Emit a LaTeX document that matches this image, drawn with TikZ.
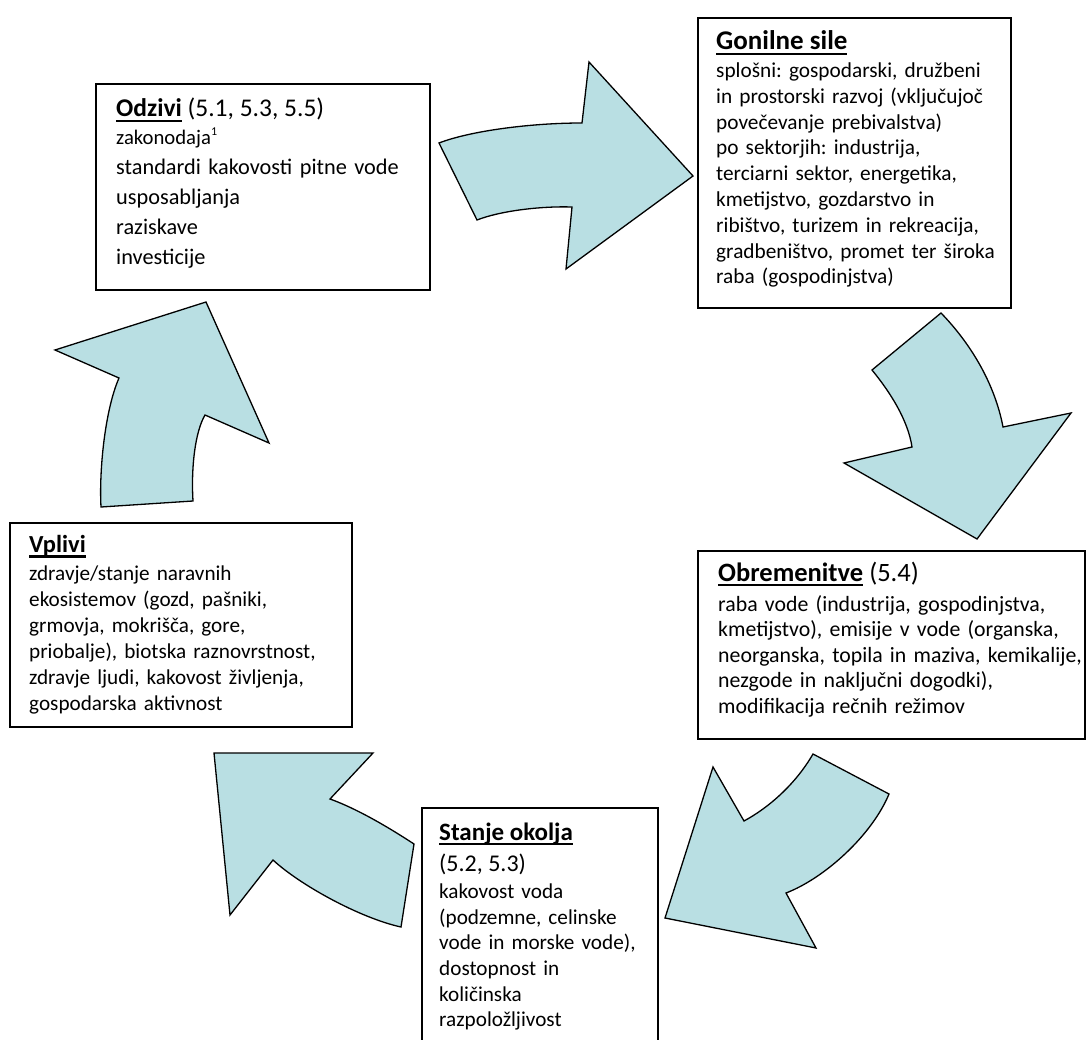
\documentclass[tikz,border=0pt]{standalone}
\usepackage{fontspec}
\setmainfont{Carlito}
\frenchspacing
\definecolor{arrowfill}{RGB}{185,223,227}
\newcommand\ulword[1]{\setbox0\hbox{#1}\rlap{\rule[-4.8pt]{\wd0}{2.1pt}}\box0\relax}
\begin{document}
\begin{tikzpicture}[x=1pt,y=-1pt,
  box/.style={draw=black, line width=1.8pt, fill=white, inner sep=0pt, anchor=north west},
  blockarrow/.style={draw=black, line width=1.3pt, fill=arrowfill, line join=miter},
  title/.style={anchor=base west, inner sep=0pt},
  body/.style={anchor=base west, inner sep=0pt, align=left, text width=420pt}]
\fill[white] (0,0) rectangle (1086,1040);
\useasboundingbox (0,0) rectangle (1086,1040);

% boxes
\node[box, minimum width=334pt, minimum height=206pt] (odz) at (95,83) {};
\node[box, minimum width=313pt, minimum height=290pt] (gon) at (697,17) {};
\node[box, minimum width=387pt, minimum height=188pt] (obr) at (697,550) {};
\node[box, minimum width=342pt, minimum height=204pt] (vpl) at (9,522) {};
\node[box, minimum width=236pt, minimum height=250pt] (sta) at (421,807) {};

% Odzivi
\node[title, font={\fontsize{25.5}{28}\selectfont}] (odzt) at (116,117) {\ulword{\bfseries Odzivi} (5.1, 5.3, 5.5)};
\node[body, font={\fontsize{22.3}{30}\selectfont}] (odzb) at (116,145)
  {{\fontsize{20.7}{30}\selectfont zakonodaja\raisebox{9pt}{\fontsize{12}{12}\selectfont 1}}\\
   standardi kakovosti pitne vode\\ usposabljanja\\ raziskave\\ investicije};

% Gonilne sile
\node[title, font={\fontsize{27}{30}\selectfont\bfseries}] (gont) at (716,50) {\ulword{Gonilne sile}};
\node[body, font={\fontsize{21.3}{25.8}\selectfont}] (gonb) at (716,77.5)
  {splošni: gospodarski, družbeni\\
   in prostorski razvoj (vključujoč\\
   povečevanje prebivalstva)\\
   po sektorjih: industrija,\\
   terciarni sektor, energetika,\\
   kmetijstvo, gozdarstvo in\\
   ribištvo, turizem in rekreacija,\\
   gradbeništvo, promet ter široka\\
   raba (gospodinjstva)};

% Obremenitve
\node[title, font={\fontsize{26.5}{30}\selectfont}] (obrt) at (718,581) {\ulword{\bfseries Obremenitve} (5.4)};
\node[body, font={\fontsize{21.8}{25.5}\selectfont}] (obrb) at (718,611)
  {raba vode (industrija, gospodinjstva,\\
   kmetijstvo), emisije v vode (organska,\\
   neorganska, topila in maziva, kemikalije,\\
   nezgode in naključni dogodki),\\
   modifikacija rečnih režimov};

% Vplivi
\node[title, font={\fontsize{24.5}{28}\selectfont\bfseries}] (vplt) at (29,552.7) {\ulword{Vplivi}};
\node[body, font={\fontsize{21.2}{26.1}\selectfont}] (vplb) at (29,580)
  {zdravje/stanje naravnih\\
   ekosistemov (gozd, pašniki,\\
   grmovja, mokrišča, gore,\\
   priobalje), biotska raznovrstnost,\\
   zdravje ljudi, kakovost življenja,\\
   gospodarska aktivnost};

% Stanje okolja
\node[title, font={\fontsize{25}{28}\selectfont\bfseries}] (stat) at (439,840) {\ulword{Stanje okolja}};
\node[title, font={\fontsize{24}{28}\selectfont}] (stan) at (439,871.7) {(5.2, 5.3)};
\node[body, font={\fontsize{21.2}{25.7}\selectfont}] (stab) at (439,898.3)
  {kakovost voda\\
   (podzemne, celinske\\
   vode in morske vode),\\
   dostopnost in\\
   količinska\\
   razpoložljivost};

% block arrows
\draw[blockarrow] (439,143) .. controls (470,131) and (530,123) .. (582,123) -- (589,62) -- (693,176)
  -- (566,269) -- (572,207) .. controls (540,206) and (500,211) .. (477,220) -- cycle;
\draw[blockarrow] (872,370) .. controls (890,392) and (908,420) .. (912,447) -- (844,463) -- (977,539)
  -- (1071,413) -- (1003,427) .. controls (995,385) and (972,345) .. (941,313) -- cycle;
\draw[blockarrow] (889,794) .. controls (872,835) and (825,878) .. (786,893) -- (816,948) -- (665,918)
  -- (713,767) -- (744,821) .. controls (768,808) and (795,785) .. (813,754) -- cycle;
\draw[blockarrow] (373,753) -- (214,753) -- (230,915) -- (273,860) .. controls (300,885) and (360,918) .. (401,927)
  -- (414,844) .. controls (385,825) and (355,808) .. (330,799) -- cycle;
\draw[blockarrow] (206,302) -- (269,443) -- (205,415) .. controls (195,432) and (191,468) .. (193,501)
  -- (101,507) .. controls (99,470) and (105,410) .. (119,378) -- (55,350) -- cycle;
\end{tikzpicture}
\end{document}
